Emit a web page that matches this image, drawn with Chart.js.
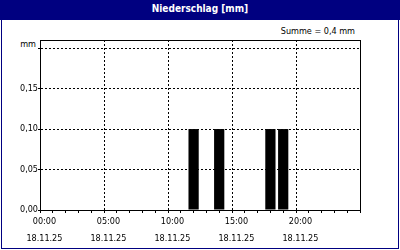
<!DOCTYPE html>
<html>
<head>
<meta charset="utf-8">
<script src="https://cdn.jsdelivr.net/npm/chart.js@4/dist/chart.umd.min.js"></script>
<style>
  body { margin: 0; background: #fff; }
  #frame { position: absolute; left: 0; top: 0; width: 400px; height: 250px; }
  #box { position: absolute; left: 1px; top: 0; width: 396px; height: 247px; border: 1px solid #000080; }
  #titlebar { position: absolute; left: 0; top: 0; width: 400px; height: 20px; background: #000080;
    color: #fff; font: bold 10px 'DejaVu Sans Condensed', 'DejaVu Sans', sans-serif;
    text-align: center; line-height: 17px; }
  #sum { position: absolute; right: 45px; top: 26px; line-height: 12px; color: #000;
    font: 9px 'DejaVu Sans Condensed', 'DejaVu Sans', sans-serif; }
  #unit { position: absolute; right: 364px; top: 39px; line-height: 12px; color: #000;
    font: 9px 'DejaVu Sans Condensed', 'DejaVu Sans', sans-serif; }
  #chart { position: absolute; left: 0; top: 0; }
</style>
</head>
<body>
<div id="frame">
  <div id="box"></div>
  <div id="titlebar">Niederschlag [mm]</div>
  <div id="sum">Summe = 0,4 mm</div>
  <div id="unit">mm</div>
  <canvas id="chart" width="400" height="250"></canvas>
</div>
<script>
// hourly rain, each bar covers one hour starting at hourStart
var hourStart = [0, 1, 2, 3, 4, 5, 6, 7, 8, 9, 10, 11, 12, 13, 14, 15, 16, 17, 18, 19, 20, 21, 22, 23];
var rain = [0, 0, 0, 0, 0, 0, 0, 0, 0, 0, 0, 0.1, 0, 0.1, 0, 0, 0, 0.1, 0.1, 0, 0, 0, 0, 0];

// x axis ticks (hours) and labels
var xTickHours = [0, 1, 2, 3, 4, 5, 6, 7, 8, 9, 10, 11, 12, 13, 14, 15, 16, 17, 18, 19, 20, 21, 22, 23, 24];
var xLabelHours = [0, 5, 10, 15, 20];
var xLabelTimes = ['00:00', '05:00', '10:00', '15:00', '20:00'];
var dateLabel = '18.11.25';

// y axis ticks and labels
var yTicks = [0, 0.05, 0.1, 0.15, 0.2];
var yLabels = ['0,00', '0,05', '0,10', '0,15', ''];

var fontFamily = "'DejaVu Sans Condensed', 'DejaVu Sans', sans-serif";

var points = hourStart.map(function(h, i) {
  return { x: h + 0.5, y: rain[i] };
});

// solid black frame round the plot area
var plotFrame = {
  id: 'plotFrame',
  afterDraw: function(chart) {
    var a = chart.chartArea;
    var ctx = chart.ctx;
    ctx.save();
    ctx.strokeStyle = '#000';
    ctx.lineWidth = 1;
    ctx.strokeRect(a.left + 0.5, a.top + 0.5, a.right - a.left, a.bottom - a.top);
    ctx.restore();
  }
};

var ctx = document.getElementById('chart').getContext('2d');
var chart = new Chart(ctx, {
  type: 'bar',
  data: {
    datasets: [{
      data: points,
      backgroundColor: '#000',
      borderWidth: 0,
      barPercentage: 0.8,
      categoryPercentage: 1.0
    }]
  },
  options: {
    responsive: false,
    devicePixelRatio: 1,
    animation: false,
    layout: { padding: { left: 0, top: 40, right: 40, bottom: 0 } },
    plugins: {
      legend: { display: false },
      tooltip: { enabled: false }
    },
    scales: {
      x: {
        type: 'linear',
        min: 0,
        max: 24,
        afterBuildTicks: function(scale) {
          scale.ticks = xTickHours.map(function(v) { return { value: v }; });
        },
        afterFit: function(scale) { scale.height = 40; },
        grid: {
          color: function(c) {
            var v = c.tick ? c.tick.value : -1;
            return (xLabelHours.indexOf(v) > 0) ? '#000' : 'rgba(0,0,0,0)';
          },
          lineWidth: 1,
          tickColor: '#000',
          tickLength: 3,
          tickBorderDash: []
        },
        border: { color: '#000', width: 1, dash: [2, 2] },
        ticks: {
          autoSkip: false,
          maxRotation: 0,
          minRotation: 0,
          padding: 0,
          labelOffset: -2,
          color: '#000',
          font: { family: fontFamily, size: 9, lineHeight: '17px' },
          callback: function(value) {
            var k = xLabelHours.indexOf(value);
            return k >= 0 ? [xLabelTimes[k], dateLabel] : '';
          }
        }
      },
      y: {
        min: 0,
        max: 0.21,
        afterBuildTicks: function(scale) {
          scale.ticks = yTicks.map(function(v) { return { value: v }; });
        },
        afterFit: function(scale) { scale.width = 40; },
        grid: {
          color: '#000',
          lineWidth: 1,
          tickColor: '#000',
          tickLength: 2,
          tickBorderDash: []
        },
        border: { color: '#000', width: 1, dash: [2, 2] },
        ticks: {
          padding: 0,
          color: '#000',
          font: { family: fontFamily, size: 9 },
          callback: function(value, index) {
            return yLabels[index];
          }
        }
      }
    }
  },
  plugins: [plotFrame]
});
</script>
</body>
</html>
